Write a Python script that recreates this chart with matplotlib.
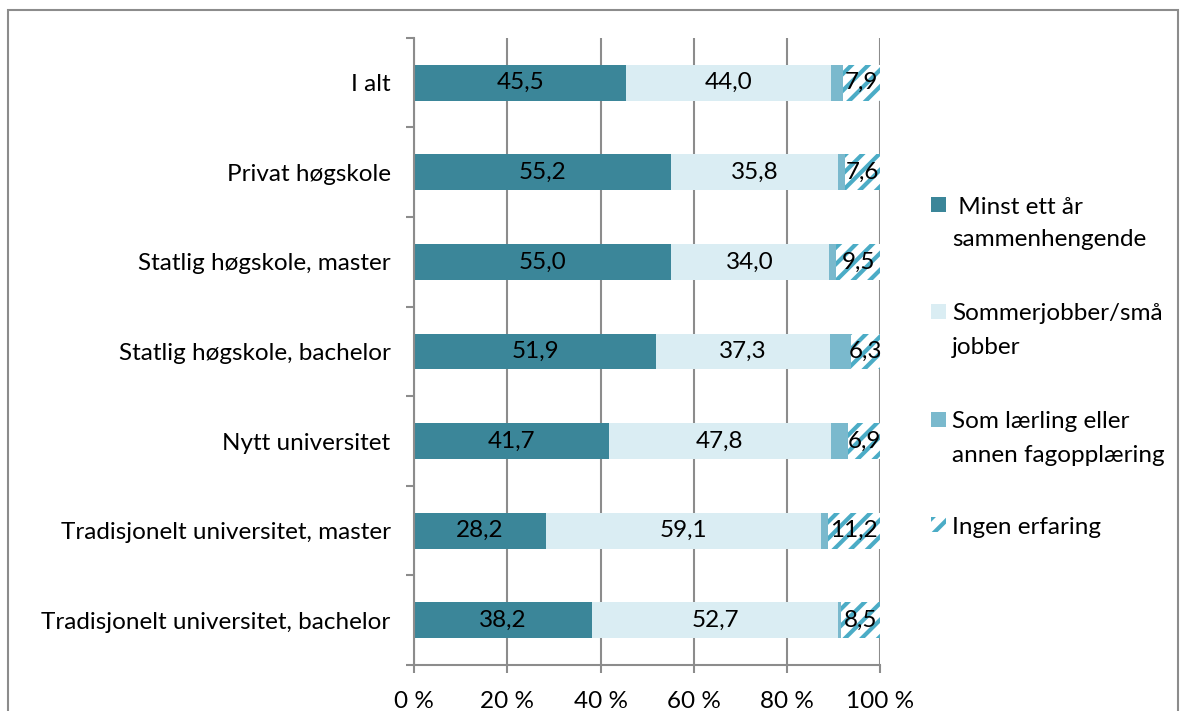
import numpy as np
import matplotlib.pyplot as plt
from matplotlib.patches import Rectangle

plt.rcParams['font.family'] = ['Lato', 'DejaVu Sans']
plt.rcParams['hatch.linewidth'] = 3.0

categories = ['I alt', 'Privat høgskole', 'Statlig høgskole, master',
              'Statlig høgskole, bachelor', 'Nytt universitet',
              'Tradisjonelt universitet, master',
              'Tradisjonelt universitet, bachelor']
minst_ett_aar = [45.5, 55.2, 55.0, 51.9, 41.7, 28.2, 38.2]
sommerjobber = [44.0, 35.8, 34.0, 37.3, 47.8, 59.1, 52.7]
laerling = [2.6, 1.4, 1.5, 4.5, 3.6, 1.5, 0.6]
ingen = [7.9, 7.6, 9.5, 6.3, 6.9, 11.2, 8.5]

series_names = [' Minst ett år\nsammenhengende', 'Sommerjobber/små\njobber',
                'Som lærling eller\nannen fagopplæring', 'Ingen erfaring']
xticks = [0, 20, 40, 60, 80, 100]
xticklabels = ['0 %', '20 %', '40 %', '60 %', '80 %', '100 %']

fs = 17.5
W, H = 1180, 711
fig = plt.figure(figsize=(11.8, 7.11), dpi=100)
ax = fig.add_axes([0.351, 0.0647, 0.395, 0.882])

y = np.arange(len(categories))[::-1]
h = 0.4
gray = '#8c8c8c'
colors = ['#3b8699', '#daedf3', '#7ab9cd', 'white']
hatch_col = '#4bacc6'

b1 = ax.barh(y, minst_ett_aar, height=h, color=colors[0], zorder=2)
left = np.array(minst_ett_aar)
b2 = ax.barh(y, sommerjobber, left=left, height=h, color=colors[1], zorder=2)
left = left + np.array(sommerjobber)
b3 = ax.barh(y, laerling, left=left, height=h, color=colors[2], zorder=2)
left = left + np.array(laerling)
b4 = ax.barh(y, ingen, left=left, height=h, color=colors[3],
             edgecolor=hatch_col, hatch='//', linewidth=0, zorder=2)

for bars, vals in [(b1, minst_ett_aar), (b2, sommerjobber), (b4, ingen)]:
    for bar, v in zip(bars, vals):
        ax.text(bar.get_x() + bar.get_width() / 2, bar.get_y() + bar.get_height() / 2,
                f'{v:.1f}'.replace('.', ','), ha='center', va='center',
                fontsize=fs, color='black', zorder=3)

ax.set_xlim(0, 100)
ax.set_ylim(-0.5, len(categories) - 0.5)
ax.set_xticks(xticks)
ax.set_xticklabels(xticklabels, fontsize=fs)
ax.set_yticks(y)
ax.set_yticklabels(categories, fontsize=fs)
ax.set_yticks(np.arange(-0.5, len(categories), 1), minor=True)
ax.tick_params(axis='y', which='major', length=0, pad=17)
ax.tick_params(axis='y', which='minor', length=6, color=gray, width=1.5)
ax.tick_params(axis='x', length=6, color=gray, width=1.5, pad=13)
ax.xaxis.grid(True, color=gray, linewidth=1.5, zorder=0)
ax.set_axisbelow(True)
for s in ['top', 'right']:
    ax.spines[s].set_visible(False)
for s in ['left', 'bottom']:
    ax.spines[s].set_color(gray)
    ax.spines[s].set_linewidth(1.5)

# legend, drawn by hand so the marker sits on the first text line
leg_y = [205, 312, 420, 525]   # pixel rows of first lines
line_gap = 33
for name, c, ly in zip(series_names, colors, leg_y):
    kw = dict(facecolor=c, linewidth=0, transform=None)
    if c == 'white':
        kw.update(edgecolor=hatch_col, hatch='//')
    fig.patches.append(Rectangle((931, H - ly - 7), 15, 15, **kw))
    for i, line in enumerate(name.split('\n')):
        fig.text(952 / W, 1 - (ly + i * line_gap) / H, line, fontsize=fs,
                 ha='left', va='center_baseline')

fig.patches.append(Rectangle((0.007, -0.01), 0.991, 0.996, transform=fig.transFigure,
                             fill=False, edgecolor=gray, linewidth=1.5))

fig.savefig('out.png', dpi=100)
